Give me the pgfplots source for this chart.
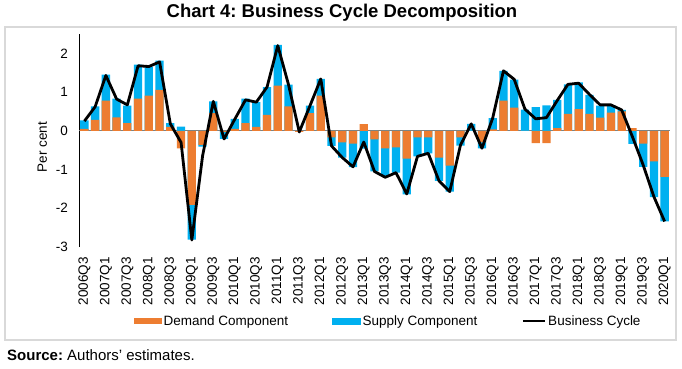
\documentclass[border=0pt]{standalone}
\usepackage{pgfplots}
\pgfplotsset{compat=1.18}
\usepackage{pgfplotstable}
\usepackage{fontspec}
\setmainfont{Liberation Sans}
\frenchspacing
\definecolor{dem}{HTML}{ED7D31}
\definecolor{sup}{HTML}{00B0F0}

\pgfplotstableread{
i d s bc
0 0.05 0.22 0.25
1 0.28 0.35 0.62
2 0.78 0.67 1.43
3 0.35 0.48 0.82
4 0.20 0.45 0.67
5 0.83 0.88 1.68
6 0.91 0.75 1.66
7 1.06 0.75 1.78
8 0.10 0.10 0.18
9 -0.45 0.11 -0.30
10 -1.91 -0.90 -2.82
11 -0.36 -0.05 -0.65
12 0.46 0.30 0.76
13 -0.03 -0.18 -0.21
14 0.05 0.26 0.30
15 0.20 0.63 0.80
16 0.10 0.64 0.74
17 0.41 0.72 1.13
18 1.17 1.05 2.20
19 0.63 0.56 1.19
20 -0.03 0.00 -0.03
21 0.46 0.19 0.65
22 0.91 0.43 1.34
23 -0.17 -0.22 -0.39
24 -0.30 -0.39 -0.69
25 -0.33 -0.61 -0.93
26 0.17 -0.46 -0.29
27 -0.22 -0.83 -1.05
28 -0.45 -0.73 -1.20
29 -0.43 -0.65 -1.08
30 -0.72 -0.92 -1.63
31 -0.17 -0.49 -0.66
32 -0.17 -0.41 -0.58
33 -0.69 -0.60 -1.29
34 -0.90 -0.67 -1.57
35 -0.17 -0.21 -0.37
36 0.00 0.18 0.18
37 -0.30 -0.15 -0.45
38 0.04 0.29 0.33
39 0.78 0.77 1.55
40 0.60 0.72 1.33
41 0.00 0.55 0.56
42 -0.32 0.61 0.31
43 -0.32 0.66 0.34
44 0.07 0.73 0.78
45 0.44 0.76 1.20
46 0.56 0.69 1.23
47 0.44 0.49 0.94
48 0.34 0.31 0.67
49 0.47 0.17 0.67
50 0.50 0.04 0.54
51 0.07 -0.34 -0.15
52 -0.33 -0.60 -0.88
53 -0.79 -0.92 -1.70
54 -1.19 -1.15 -2.34
}\data

\begin{document}
\begin{tikzpicture}
\path[use as bounding box] (0pt,0pt) rectangle (682pt,368pt);
\draw[color=black!15, line width=1.5pt] (5pt,28pt) rectangle (676pt,341pt);
\node[font=\fontsize{18.5}{21}\selectfont\bfseries] at (342pt,355pt) {Chart 4: Business Cycle Decomposition};
\node[anchor=west, font=\fontsize{15}{17}\selectfont, inner sep=0pt] at (7pt,13pt) {\textbf{Source:} Authors’ estimates.};
\begin{axis}[
  at={(79pt,121pt)}, anchor=south west,
  scale only axis, width=591pt, height=213pt,
  xmin=-0.5, xmax=54.5, ymin=-3, ymax=2.5,
  axis y line*=left, axis x line*=bottom,
  x axis line style={draw=none},
  y axis line style={-, line width=0.8pt},
  major tick length=0pt,
  ytick={-3,-2,-1,0,1,2},
  yticklabels={-3,-2,-1,0,1,2},
  xtick={0,2,...,54},
  xticklabels={2006Q3,2007Q1,2007Q3,2008Q1,2008Q3,2009Q1,2009Q3,2010Q1,2010Q3,2011Q1,2011Q3,2012Q1,2012Q3,2013Q1,2013Q3,2014Q1,2014Q3,2015Q1,2015Q3,2016Q1,2016Q3,2017Q1,2017Q3,2018Q1,2018Q3,2019Q1,2019Q3,2020Q1},
  tick label style={font=\fontsize{13.5}{15}\selectfont},
  xticklabel style={rotate=90, anchor=east, inner sep=0pt},
  xticklabel shift=10pt,
  yticklabel style={inner sep=0pt},
  yticklabel shift=11pt,
  extra y ticks={0}, extra y tick labels={},
  extra y tick style={grid=major, major grid style={draw=black!50, line width=0.7pt}},
  ylabel={Per cent},
  ylabel style={font=\fontsize{13.5}{15}\selectfont, at={(axis description cs:-0.062,0.47)}, anchor=center},
  legend columns=3,
  legend style={draw=none, fill=none, font=\fontsize{13.5}{15}\selectfont,
    at={(axis description cs:0.523,-0.347)}, anchor=center,
    /tikz/every even column/.append style={column sep=42pt}},
  legend cell align=left,
]
\addplot[ybar, bar width=0.77, bar shift=0pt, fill=sup, draw=none, forget plot]
  table[x=i, y expr={(\thisrow{d}*\thisrow{s}>0) ? (\thisrow{d}+\thisrow{s}) : \thisrow{s}}] {\data};
\addplot[ybar, bar width=0.77, bar shift=0pt, fill=dem, draw=none,
  legend image code/.code={\fill[dem] (0pt,-3pt) rectangle (28pt,3pt);}]
  table[x=i, y=d] {\data};
\addlegendentry{Demand Component}
\addlegendimage{legend image code/.code={\fill[sup] (0pt,-3pt) rectangle (28pt,3pt);}}
\addlegendentry{Supply Component}
\addplot[black, line width=2.8pt, line join=round, mark=none,
  legend image code/.code={\draw[black, line width=2.8pt] (0pt,0pt) -- (22pt,0pt);}]
  table[x=i, y=bc] {\data};
\addlegendentry{Business Cycle}
\end{axis}
\end{tikzpicture}
\end{document}
